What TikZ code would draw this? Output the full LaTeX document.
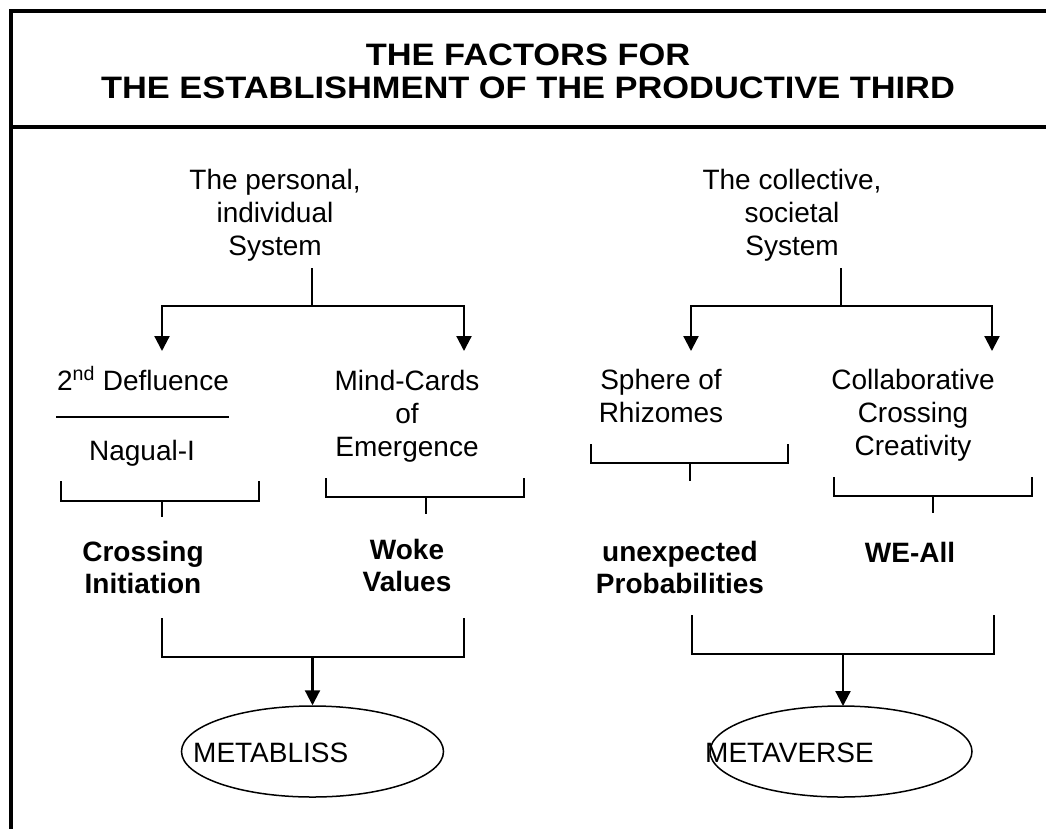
\documentclass[tikz,border=0pt]{standalone}
\usepackage{fontspec}
\setmainfont{Liberation Sans}
\newfontfamily\titlefont[FakeStretch=1.11]{Liberation Sans}
\usetikzlibrary{arrows.meta}
\usetikzlibrary{shapes.geometric}

\begin{document}
\begin{tikzpicture}[x=1pt,y=-1pt,
    txt/.style={anchor=base,align=center,inner sep=0pt,font=\fontsize{28}{33}\selectfont},
    btxt/.style={txt,font=\fontsize{28}{32}\selectfont\bfseries},
    frame/.style={line width=4pt},
    tree/.style={line width=2.2pt},
    brace/.style={line width=1.8pt},
    arr/.style={-{Triangle[length=15pt,width=15pt]}},
    oval/.style={ellipse,draw,line width=1.5pt,inner sep=0pt,minimum width=262pt,minimum height=91pt}]
  \useasboundingbox (0,0) rectangle (1046,828);

  \draw[frame] (1050,11) -- (11,11) -- (11,832);
  \draw[frame] (11,127) -- (1050,127);
  \node[anchor=base,align=center,inner sep=0pt,font=\titlefont\bfseries\fontsize{31}{33}\selectfont] (title) at (528,98)
    {THE FACTORS FOR\\THE ESTABLISHMENT OF THE PRODUCTIVE THIRD};

  % personal side
  \node[txt] (pers) at (275,255) {The personal,\\individual\\System};
  \coordinate (pers-top) at (312,268);
  \coordinate (pers-fork) at (312,306);
  \coordinate (pers-l) at (162,351);
  \coordinate (pers-r) at (464,351);
  \draw[tree] (pers-top) -- (pers-fork);
  \draw[tree,arr] (pers-fork) -| (pers-l);
  \draw[tree,arr] (pers-fork) -| (pers-r);

  \node[txt] (defl) at (143,390) {2\textsuperscript{nd} Defluence};
  \draw[brace] (56,417) -- (229,417);
  \node[txt] (nagual) at (142,460) {Nagual-I};
  \node[txt] (mind) at (407,456) {Mind-Cards\\of\\Emergence};

  \draw[brace] (61,481) -- (61,501) -- (259,501) -- (259,481);
  \draw[brace] (162,501) -- (162,517);
  \draw[brace] (326,478) -- (326,497) -- (524,497) -- (524,478);
  \draw[brace] (426,497) -- (426,514);

  \node[btxt] (cross) at (143,593) {Crossing\\Initiation};
  \node[btxt] (woke) at (407,591) {Woke\\Values};

  \draw[brace] (162,618) -- (162,657) -- (464,657) -- (464,618);
  \node[oval] (bliss) at (312.5,751.5) {};
  \draw[tree,arr] (312.5,657) -- (bliss.north);
  \node[anchor=base west,inner sep=0pt,font=\fontsize{28}{33}\selectfont] (blisstxt) at (193,762) {METABLISS};

  % collective side
  \node[txt] (coll) at (792,255) {The collective,\\societal\\System};
  \coordinate (coll-top) at (841,268);
  \coordinate (coll-fork) at (841,306);
  \coordinate (coll-l) at (691,351);
  \coordinate (coll-r) at (992,351);
  \draw[tree] (coll-top) -- (coll-fork);
  \draw[tree,arr] (coll-fork) -| (coll-l);
  \draw[tree,arr] (coll-fork) -| (coll-r);

  \node[txt] (sphere) at (661,422) {Sphere of\\Rhizomes};
  \node[txt] (collab) at (913,455) {Collaborative\\Crossing\\Creativity};

  \draw[brace] (591,444) -- (591,463) -- (788,463) -- (788,444);
  \draw[brace] (690,463) -- (690,481);
  \draw[brace] (834,477) -- (834,496) -- (1032,496) -- (1032,477);
  \draw[brace] (933,496) -- (933,513);

  \node[btxt] (unexp) at (680,593) {unexpected\\Probabilities};
  \node[btxt] (weall) at (910,562) {WE-All};

  \draw[brace] (692,615) -- (692,654) -- (994,654) -- (994,615);
  \node[oval] (verse) at (841,751.5) {};
  \draw[tree,arr] (843,654) -- (843,706);
  \node[anchor=base west,inner sep=0pt,font=\fontsize{28}{33}\selectfont] (versetxt) at (705,762) {METAVERSE};
\end{tikzpicture}
\end{document}
